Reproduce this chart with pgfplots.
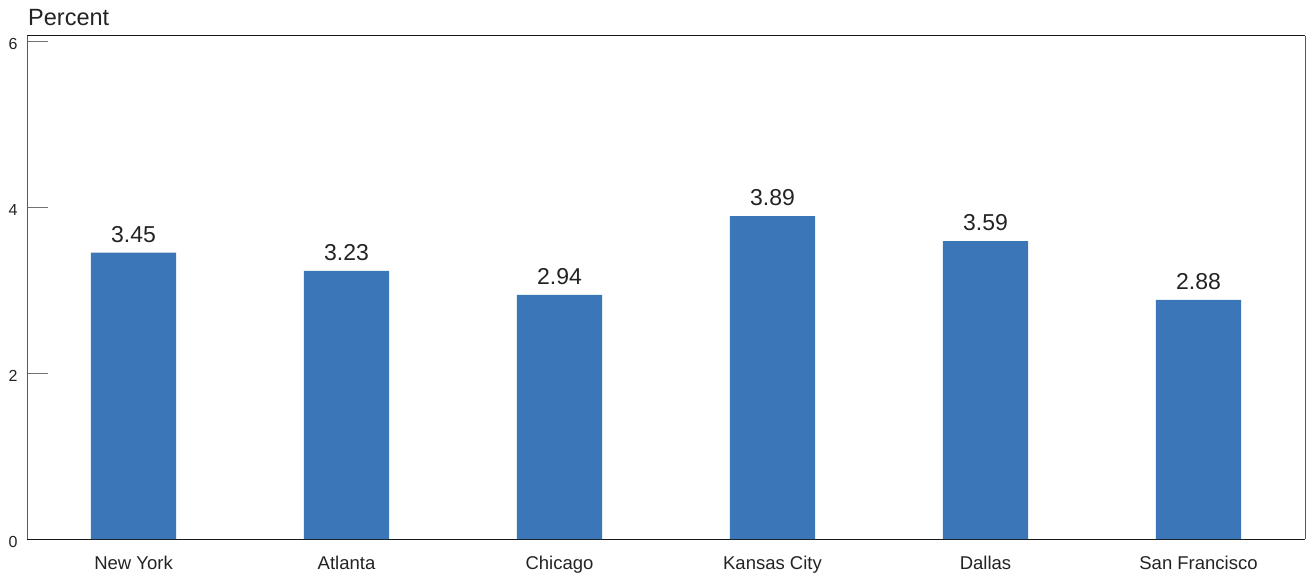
\documentclass[border=0pt]{standalone}
\usepackage{pgfplots}
\pgfplotsset{compat=1.18}
\usepackage{fontspec}
\setmainfont{Liberation Sans}
\definecolor{barblue}{RGB}{59,118,185}
\definecolor{txt}{RGB}{35,35,35}
\newcommand\ylf{\fontsize{16}{18}\selectfont}
\begin{document}
\begin{tikzpicture}
\begin{axis}[
  scale only axis,
  width=1278pt, height=503pt,
  xmin=-0.5, xmax=5.5,
  ymin=0, ymax=6.06,
  ytick={0,2,4,6},
  yticklabels={{\ylf 0},{\ylf 2},{\ylf 4},{\ylf 6}},
  xtick=data,
  xticklabels={New York,Atlanta,Chicago,Kansas City,Dallas,San Francisco},
  x tick label style={font=\fontsize{18.5}{20}\selectfont, text=txt, anchor=north, yshift=7pt},
  y tick label style={text=txt, anchor=east, xshift=-6pt, yshift=-3pt},
  /pgf/number format/assume math mode=true,
  xtick style={draw=none},
  ytick pos=left,
  tick align=inside,
  major tick length=21pt,
  ytick style={black!55, line width=0.8pt},
  separate axis lines,
  x axis line style={black!90, line width=1pt},
  y axis line style={black!65, line width=1pt},
  ybar,
  bar width=0.4,
  nodes near coords,
  nodes near coords style={anchor=south, inner sep=0pt, yshift=10pt, font=\fontsize{23}{24}\selectfont, text=txt, /pgf/number format/.cd, fixed, fixed zerofill, precision=2, assume math mode=true},
]
\addplot[fill=barblue, draw=none] coordinates {(0,3.45) (1,3.23) (2,2.94) (3,3.89) (4,3.59) (5,2.88)};
\end{axis}
\node[anchor=base west, inner sep=0pt, font=\fontsize{23.5}{24}\selectfont, text=txt] at ([shift={(1pt,10pt)}]current axis.north west) {Percent};
\pgfresetboundingbox
\path ([shift={(-27pt,-36pt)}]current axis.south west) rectangle ([shift={(2pt,36pt)}]current axis.north east);
\end{tikzpicture}
\end{document}
